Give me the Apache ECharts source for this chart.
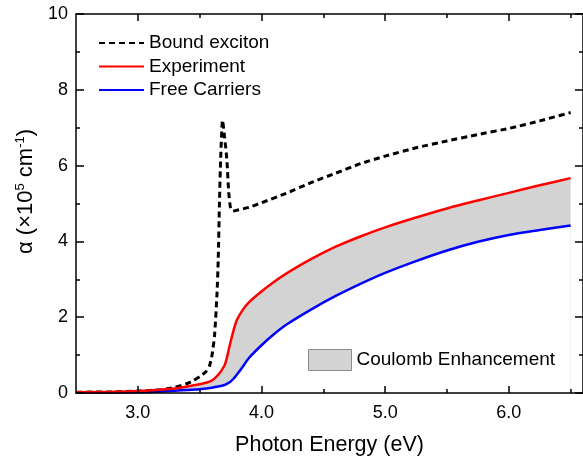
<!DOCTYPE html>
<html>
<head>
<meta charset="utf-8">
<script src="https://cdn.jsdelivr.net/npm/echarts@6.0.0/dist/echarts.min.js"></script>
<style>
  html, body { margin: 0; padding: 0; background: #fff; }
  #main { width: 583px; height: 461px; }
</style>
</head>
<body>
<div id="main"></div>
<script>
// tick positions
const majorX = [3, 4, 5, 6];
const minorX = [3.5, 4.5, 5.5, 6.5];

// shared energy grid for experiment / free carriers (eV)
const energy = [2.5, 2.8, 3.0, 3.2, 3.3, 3.4, 3.5, 3.55, 3.6, 3.65, 3.7, 3.72, 3.75, 3.78, 3.8,
  3.85, 3.9, 4.0, 4.1, 4.2, 4.4, 4.6, 4.8, 5.0, 5.25, 5.5, 5.75, 6.0, 6.25, 6.5];
const experiment = [0.02, 0.03, 0.05, 0.09, 0.12, 0.17, 0.23, 0.27, 0.33, 0.48, 0.72, 0.93, 1.35, 1.72, 1.92,
  2.2, 2.4, 2.68, 2.93, 3.15, 3.53, 3.86, 4.13, 4.37, 4.63, 4.87, 5.08, 5.28, 5.48, 5.67];
const freeCarriers = [0.01, 0.015, 0.02, 0.04, 0.06, 0.08, 0.1, 0.12, 0.14, 0.17, 0.21, 0.24, 0.3, 0.4, 0.48,
  0.7, 0.93, 1.26, 1.55, 1.8, 2.2, 2.56, 2.88, 3.17, 3.48, 3.76, 3.99, 4.17, 4.3, 4.42];

// bound exciton has its own (denser) grid around the peak
const boundEnergy = [2.5, 2.8, 3.0, 3.2, 3.3, 3.4, 3.45, 3.5, 3.55, 3.58, 3.6, 3.62, 3.64, 3.65, 3.66, 3.67,
  3.685, 3.7, 3.72, 3.735, 3.75, 3.77, 3.8, 3.9, 4.0, 4.2, 4.4, 4.6, 4.8, 5.0, 5.25, 5.5, 5.75, 6.0, 6.25, 6.5];
const boundExciton = [0.02, 0.03, 0.05, 0.09, 0.15, 0.25, 0.33, 0.43, 0.56, 0.72, 1.0, 1.5, 2.6, 3.5, 5.0, 6.2,
  7.2, 6.8, 6.15, 5.3, 4.88, 4.8, 4.82, 4.9, 5.02, 5.27, 5.55, 5.8, 6.05, 6.25, 6.47, 6.65, 6.82, 6.98, 7.18, 7.4];

const pairs = (xs, ys) => xs.map((x, i) => [x, ys[i]]);

const font = 'Liberation Sans, Arial, sans-serif';
const black = '#000';
const SMOOTH = 0.3;

const myChart = echarts.init(document.getElementById('main'));

// axis with labels + major ticks, plus a helper for minor ticks, same on top
function xAxisOf(position, values, tickLen, showLine, showLabel) {
  return {
    type: 'value',
    position: position,
    min: 2.5,
    max: 6.6,
    z: 10,
    splitLine: { show: false },
    axisLine: { show: showLine, onZero: false, lineStyle: { color: black, width: 1.5 } },
    axisTick: { show: true, inside: true, length: tickLen, customValues: values,
      lineStyle: { color: black, width: 1.5 } },
    axisLabel: { show: showLabel, customValues: values, color: black, fontSize: 18,
      fontFamily: font, margin: 11, formatter: v => v.toFixed(1) }
  };
}

function yAxisOf(position, showLabel) {
  return {
    type: 'value',
    position: position,
    min: 0,
    max: 10,
    interval: 2,
    z: 10,
    splitLine: { show: false },
    axisLine: { show: true, onZero: false, lineStyle: { color: black, width: 1.5 } },
    axisTick: { show: true, inside: true, length: 8, lineStyle: { color: black, width: 1.5 } },
    minorTick: { show: true, splitNumber: 2, length: 4, lineStyle: { color: black, width: 1.5 } },
    axisLabel: { show: showLabel, color: black, fontSize: 18, fontFamily: font, margin: 8 }
  };
}

const bottomAxis = xAxisOf('bottom', majorX, 7, true, true);
bottomAxis.name = 'Photon Energy (eV)';
bottomAxis.nameLocation = 'middle';
bottomAxis.nameGap = 41;
bottomAxis.nameTextStyle = { color: black, fontSize: 21.5, fontFamily: font };

const leftAxis = yAxisOf('left', true);
leftAxis.name = '{a|α (×10}{s|5}{a| cm}{s|-1}{a|)}';
leftAxis.nameLocation = 'middle';
leftAxis.nameGap = 36;
leftAxis.nameTextStyle = {
  padding: [0, 0, 0, 24],
  rich: {
    a: { fontSize: 22, fontFamily: font, color: black, lineHeight: 24 },
    s: { fontSize: 13, fontFamily: font, color: black, verticalAlign: 'top', lineHeight: 24 }
  }
};

const option = {
  animation: false,
  textStyle: { fontFamily: font },
  grid: { left: 76, right: -1, top: 14, bottom: 67, containLabel: false },
  legend: [
    {
      data: ['Bound exciton', 'Experiment', 'Free Carriers'],
      orient: 'vertical',
      left: 93,
      top: 28,
      itemWidth: 45,
      itemHeight: 14,
      itemGap: 3.5,
      selectedMode: false,
      itemStyle: { opacity: 0 },
      textStyle: { color: black, fontSize: 19, fontFamily: font, lineHeight: 20 }
    },
    {
      data: ['Coulomb Enhancement'],
      left: 303,
      top: 344,
      icon: 'rect',
      itemWidth: 43,
      itemHeight: 21,
      selectedMode: false,
      itemStyle: { color: '#d3d3d3', borderColor: '#8c8c8c', borderWidth: 1, opacity: 1 },
      textStyle: { color: black, fontSize: 19, fontFamily: font }
    }
  ],
  xAxis: [
    bottomAxis,
    xAxisOf('bottom', minorX, 4, false, false),
    xAxisOf('top', majorX, 7, true, false),
    xAxisOf('top', minorX, 4, false, false)
  ],
  yAxis: [leftAxis, yAxisOf('right', false)],
  series: [
    // gray under the experiment curve, then white under the free carriers
    {
      name: 'Coulomb Enhancement',
      type: 'line',
      data: pairs(energy, experiment),
      symbol: 'none',
      smooth: SMOOTH,
      silent: true,
      itemStyle: { color: '#d3d3d3' },
      lineStyle: { width: 0, opacity: 0 },
      areaStyle: { color: '#d3d3d3', opacity: 1 }
    },
    {
      name: 'mask',
      type: 'line',
      data: pairs(energy, freeCarriers),
      symbol: 'none',
      smooth: SMOOTH,
      silent: true,
      lineStyle: { width: 0, opacity: 0 },
      areaStyle: { color: '#ffffff', opacity: 1 }
    },
    {
      name: 'Free Carriers',
      type: 'line',
      data: pairs(energy, freeCarriers),
      symbol: 'none',
      smooth: SMOOTH,
      itemStyle: { color: '#0000ff' },
      lineStyle: { color: '#0000ff', width: 2.5 }
    },
    {
      name: 'Bound exciton',
      type: 'line',
      data: pairs(boundEnergy, boundExciton),
      symbol: 'none',
      smooth: 0.2,
      itemStyle: { color: black },
      lineStyle: { color: black, width: 3, type: [6, 4] }
    },
    {
      name: 'Experiment',
      type: 'line',
      data: pairs(energy, experiment),
      symbol: 'none',
      smooth: SMOOTH,
      itemStyle: { color: '#ff0000' },
      lineStyle: { color: '#ff0000', width: 2.5 }
    }
  ]
};

myChart.setOption(option);
window.addEventListener('resize', function () {
  myChart.resize();
});
</script>
</body>
</html>
